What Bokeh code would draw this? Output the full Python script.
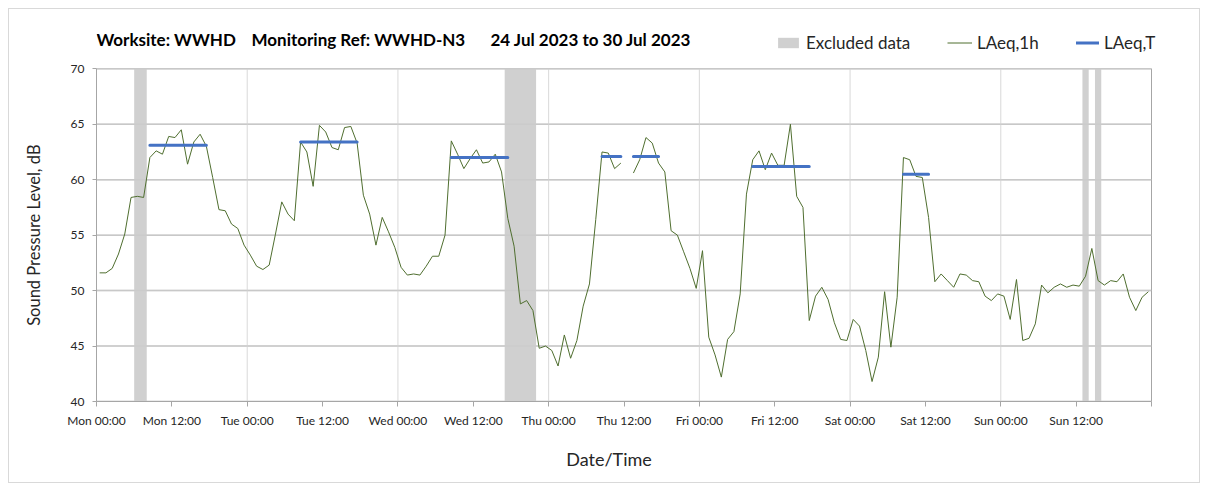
import numpy as np
from bokeh.plotting import figure
from bokeh.models import Range1d, FixedTicker, Label, Legend, LegendItem
from bokeh.embed import file_html
from bokeh.resources import INLINE

# ---- data ----
laeq_1h = [
    51.6, 51.6, 52.0, 53.3, 55.1, 58.4, 58.5, 58.4, 62.0, 62.6, 62.3, 63.9,
    63.8, 64.5, 61.4, 63.4, 64.1, 63.0, 60.2, 57.3, 57.2, 56.0, 55.6, 54.1,
    53.2, 52.2, 51.9, 52.3, 55.1, 58.0, 56.9, 56.3, 63.4, 62.5, 59.4, 64.9,
    64.3, 62.9, 62.7, 64.7, 64.8, 63.3, 58.6, 56.9, 54.1, 56.6, 55.3, 53.9,
    52.1, 51.4, 51.5, 51.4, 52.2, 53.1, 53.1, 55.0, 63.5, 62.3, 61.0, 61.9,
    62.7, 61.5, 61.6, 62.3, 60.7, 56.5, 54.0, 48.8, 49.1, 48.2, 44.8, 45.0,
    44.6, 43.2, 46.0, 43.9, 45.5, 48.6, 50.6, 56.4, 62.5, 62.4, 61.0, 61.5,
    None, 60.6, 61.8, 63.8, 63.3, 61.5, 60.7, 55.4, 55.0, 53.5, 52.0, 50.2,
    53.6, 45.8, 44.2, 42.2, 45.6, 46.3, 49.7, 58.7, 61.8, 62.6, 60.9, 62.4,
    61.3, 61.3, 65.0, 58.5, 57.5, 47.3, 49.5, 50.3, 49.2, 47.1, 45.6, 45.5,
    47.4, 46.8, 44.6, 41.8, 44.0, 49.9, 44.9, 49.4, 62.0, 61.8, 60.3, 60.2,
    56.6, 50.8, 51.5, 50.9, 50.3, 51.5, 51.4, 50.9, 50.8, 49.5, 49.1, 49.7,
    49.5, 47.4, 51.0, 45.5, 45.7, 47.0, 50.5, 49.8, 50.3, 50.6, 50.3, 50.5,
    50.4, 51.3, 53.8, 50.9, 50.5, 50.9, 50.8, 51.5, 49.4, 48.2, 49.4, 49.9,
]
# LAeq,T daytime periods (hour index start/end inclusive) and values
period_start = [8, 32, 56, 80, 104, 128]
period_end = [17, 41, 65, 89, 113, 132]
period_value = [63.1, 63.4, 62.0, 62.1, 61.2, 60.5]
# Excluded data (hours from Mon 00:00)
excl_start = [6, 65, 157, 159]
excl_end = [8, 70, 158, 160]
tick_hours = [0, 12, 24, 36, 48, 60, 72, 84, 96, 108, 120, 132, 144, 156, 168]
tick_labels = ["Mon 00:00", "Mon 12:00", "Tue 00:00", "Tue 12:00", "Wed 00:00",
               "Wed 12:00", "Thu 00:00", "Thu 12:00", "Fri 00:00", "Fri 12:00",
               "Sat 00:00", "Sat 12:00", "Sun 00:00", "Sun 12:00", ""]
day_lines = [24, 48, 72, 96, 120, 144]
y_ticks = [40, 45, 50, 55, 60, 65, 70]
X_MIN, X_MAX = 0, 168
Y_MIN, Y_MAX = 40, 70

y1h = np.array([np.nan if v is None else v for v in laeq_1h], dtype=float)
hours = np.arange(len(y1h)) + 0.5  # hourly interval centres
yT = np.full(len(y1h), np.nan)
for s, e, v in zip(period_start, period_end, period_value):
    for i in range(s, e + 1):
        if not np.isnan(y1h[i]):
            yT[i] = v

FONT = "Lato"
TXT = "#262626"
W, H = 1192, 475
MB_L, MB_R, MB_T, MB_B = 87, 20, 17, 83
FRAME_W = W - MB_L - MB_R
FRAME_H = H - MB_T - MB_B
PX_PER_H = 1055 / (X_MAX - X_MIN)
PX_PER_DB = 332.7 / (Y_MAX - Y_MIN)

p = figure(width=W, height=H,
           x_range=Range1d(X_MIN, X_MIN + FRAME_W / PX_PER_H),
           y_range=Range1d(Y_MIN, Y_MIN + FRAME_H / PX_PER_DB),
           output_backend="svg", toolbar_location=None,
           min_border_left=MB_L, min_border_right=MB_R, min_border_top=MB_T,
           min_border_bottom=MB_B)
p.styles = {"border": "1px solid #d9d9d9", "margin": "8px 0px 0px 8px"}
p.background_fill_color = "white"
p.outline_line_color = None
p.xgrid.visible = False
p.ygrid.visible = False

# gridlines of the plot area
n_y = len(y_ticks)
p.segment(x0=[X_MIN] * n_y, x1=[X_MAX] * n_y, y0=y_ticks, y1=y_ticks,
          line_color="#c8c8c8", line_width=1.5, level="image")
p.segment(x0=day_lines, x1=day_lines, y0=[Y_MIN] * len(day_lines), y1=[Y_MAX] * len(day_lines),
          line_color="#d9d9d9", line_width=1, level="image")
excl = p.quad(left=excl_start, right=excl_end, bottom=[Y_MIN] * len(excl_start),
              top=[Y_MAX] * len(excl_start), fill_color="#d0d0d0", line_color=None,
              level="image")
p.segment(x0=[X_MAX], x1=[X_MAX], y0=[Y_MIN], y1=[Y_MAX], line_color="#a6a6a6", line_width=1)
# redraw horizontal gridlines over the excluded bands
p.segment(x0=[X_MIN] * n_y, x1=[X_MAX] * n_y, y0=y_ticks, y1=y_ticks,
          line_color="#c8c8c8", line_width=1.5, line_alpha=0.6)
l1 = p.line(hours, y1h, line_color="#4f6e2f", line_width=1)
lT = p.line(hours, yT, line_color="#4472C4", line_width=3, line_cap="round")

# axes
p.xaxis.ticker = FixedTicker(ticks=tick_hours)
p.xaxis.major_label_overrides = {h: t for h, t in zip(tick_hours, tick_labels)}
p.xaxis.bounds = (X_MIN, X_MAX)
p.yaxis.ticker = FixedTicker(ticks=y_ticks)
p.yaxis.bounds = (Y_MIN, Y_MAX)
for ax in (p.xaxis[0], p.yaxis[0]):
    ax.axis_line_color = "#a6a6a6"
    ax.major_tick_line_color = "#a6a6a6"
    ax.minor_tick_line_color = None
    ax.major_tick_in = 0
    ax.major_label_text_font = FONT
    ax.major_label_text_font_size = "12px"
    ax.major_label_text_color = TXT
    ax.axis_label_text_font = FONT
    ax.axis_label_text_font_style = "normal"
    ax.axis_label_text_color = TXT
p.xaxis.major_tick_out = 5
p.yaxis.major_tick_out = 4
p.xaxis.major_label_standoff = 6
p.yaxis.major_label_standoff = 8
# trailing no-break spaces re-centre the label on the Mon-Sun span
p.xaxis.axis_label = "Date/Time" + "\u00a0" * 13
p.xaxis.axis_label_text_font_size = "18px"
p.xaxis.axis_label_standoff = 17
# trailing no-break spaces re-centre the rotated label on the 40-70 dB span
p.yaxis.axis_label = "Sound Pressure Level, dB" + "\u00a0" * 10
p.yaxis.axis_label_text_font_size = "16.5px"
p.yaxis.axis_label_standoff = 24

# title pieces (screen units from frame bottom-left)
for txt, x in [("Worksite: WWHD", 0), ("Monitoring Ref: WWHD-N3", 155),
               ("24 Jul 2023 to 30 Jul 2023", 394)]:
    p.add_layout(Label(x=x, y=362, x_units="screen", y_units="screen", text=txt,
                       text_font=FONT, text_font_style="bold", text_font_size="17px",
                       text_color="#000000", text_baseline="middle"))

# legends
for rend, name, vx, gw in [(excl, "Excluded data", 679, 26), (l1, "LAeq,1h", 851, 25),
                           (lT, "LAeq,T", 980, 23)]:
    lg = Legend(items=[LegendItem(label=name, renderers=[rend])], location=(vx, 348),
                orientation="horizontal", padding=0, margin=0, border_line_color=None,
                background_fill_alpha=0, glyph_width=gw, glyph_height=13, label_height=13,
                label_standoff=5, label_text_font=FONT, label_text_font_size="17px",
                label_text_color=TXT)
    p.add_layout(lg)

open("out.html", "w").write(file_html(p, INLINE))
